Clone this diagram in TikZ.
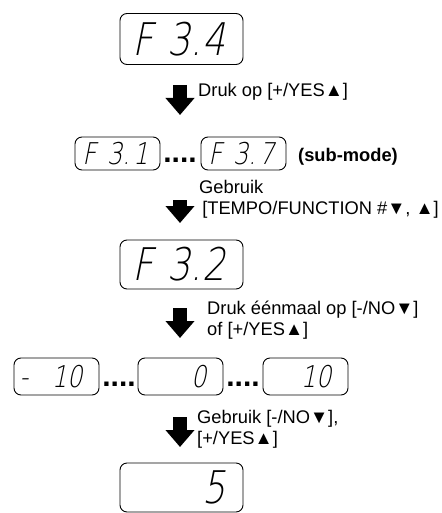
\documentclass[tikz,border=0pt]{standalone}
\usepackage{fontspec}
\setmainfont{Liberation Sans}
\newfontfamily\segfont[FakeSlant=0.2,FakeStretch=0.8]{DejaVu Sans ExtraLight}
\usetikzlibrary{arrows.meta}

% display text hangs left from the right margin of its box
\newcommand{\segright}[1]{\makebox[0pt][r]{#1}}

\begin{document}
\begin{tikzpicture}[x=1pt,y=-1pt,
  display/.style={draw,rounded corners=7pt,line width=0.9pt,inner sep=0pt,align=right},
  bigdisplay/.style={display,minimum width=123pt,minimum height=51pt,text width=87.4pt,font=\segfont\fontsize{45}{45}\selectfont},
  smalldisplay/.style={display,minimum width=85pt,minimum height=35pt,text width=61.6pt,font=\segfont\fontsize{30}{30}\selectfont},
  dots/.style={inner sep=0pt,font=\bfseries\fontsize{30}{30}\selectfont},
  blockarrow/.style={line width=14pt,-{Triangle[width=28pt,length=17pt]}},
  instr/.style={anchor=west,inner sep=0pt,align=left,font=\fontsize{18.3}{21}\selectfont}]

\useasboundingbox (0,0) rectangle (441,513);

\coordinate (arrow-1-top) at (180,85);
\coordinate (arrow-1-tip) at (180,115);
\coordinate (arrow-2-top) at (180,200);
\coordinate (arrow-2-tip) at (180,223);
\coordinate (arrow-3-top) at (180,308);
\coordinate (arrow-3-tip) at (180,338);
\coordinate (arrow-4-top) at (180,417);
\coordinate (arrow-4-tip) at (180,447);

\node[bigdisplay] (f34) at (181.5,39) {\segright{F\hspace{14.3pt}3.4}};

\node[smalldisplay,minimum height=33pt] (f31) at (117.5,153.5) {\segright{F\hspace{11pt}3.\hspace{3pt}1}};
\node[dots] (dots-1) at (180,160) {....};
\node[smalldisplay,minimum height=33pt] (f37) at (243.5,153.5) {\segright{F\hspace{11pt}3.\hspace{3pt}7}};
\node[instr,font=\bfseries\fontsize{18.3}{21}\selectfont] (sub-mode) at (298,157) {(sub-mode)};

\node[bigdisplay,minimum height=49pt] (f32) at (181.5,264.5) {\segright{F\hspace{14.3pt}3.2}};

\node[smalldisplay,minimum height=37pt,text width=52pt] (minus-ten) at (56.5,376.5) {\segright{-\hspace{23.7pt}10}};
\node[dots] (dots-2) at (119,384) {....};
\node[smalldisplay,minimum height=37pt,text width=52pt] (zero) at (180.5,376.5) {\segright{0}};
\node[dots] (dots-3) at (243,384) {....};
\node[smalldisplay,minimum height=37pt,text width=52pt] (ten) at (305.5,376.5) {\segright{10}};

\node[bigdisplay,minimum height=49pt] (five) at (181.5,487.5) {\segright{5}};

\draw [blockarrow] (arrow-1-top) -- (arrow-1-tip);
\draw [blockarrow] (arrow-2-top) -- (arrow-2-tip);
\draw [blockarrow] (arrow-3-top) -- (arrow-3-tip);
\draw [blockarrow] (arrow-4-top) -- (arrow-4-tip);

\node[instr] (press-yes) at (198,92) {Druk op [+/YES▲]};
\node[instr] (use-tempo) at (199,199) {Gebruik\\\,[TEMPO/FUNCTION \#▼, ▲]};
\node[instr] (press-once) at (207,320) {Druk éénmaal op [-/NO▼]\\of [+/YES▲]};
\node[instr] (use-no-yes) at (197,429) {Gebruik [-/NO▼],\\{}[+/YES▲]};

\end{tikzpicture}
\end{document}
